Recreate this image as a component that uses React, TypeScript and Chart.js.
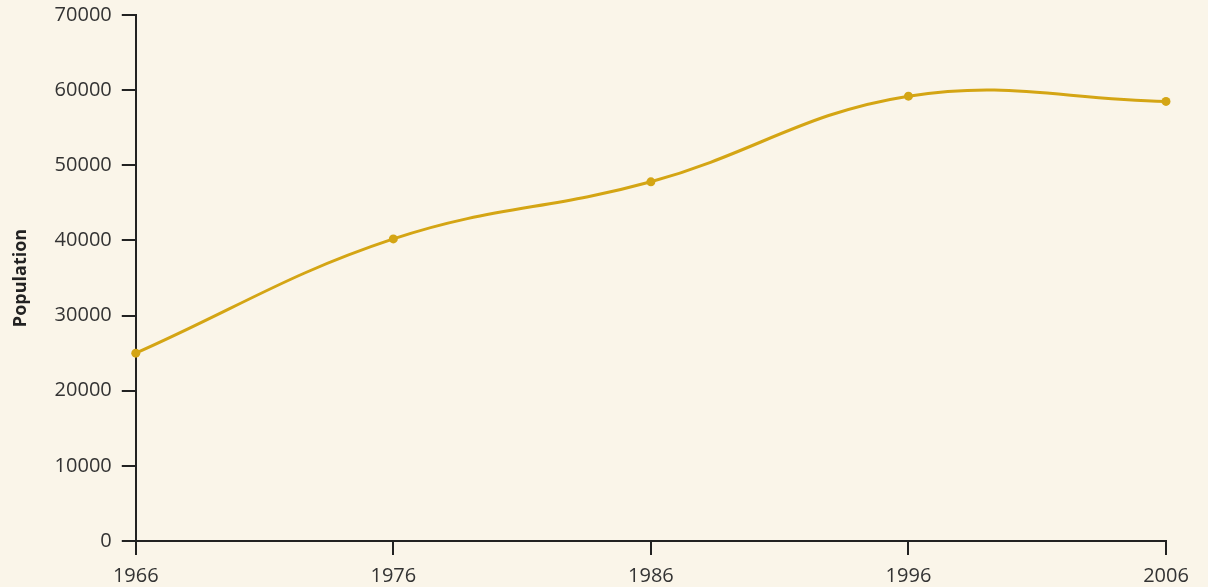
import React, { useEffect, useRef } from "react";
import { Chart, registerables } from "chart.js";

Chart.register(...registerables);

const years = ["1966", "1976", "1986", "1996", "2006"];
const population = [25000, 40200, 47800, 59200, 58500];
const yAxisTitle = "Population";

const LINE_COLOR = "#d4a514";
const AXIS_COLOR = "#222222";
const TEXT_COLOR = "#333333";
const BG = "#faf5e9";

export default function App() {
  const ref = useRef<HTMLCanvasElement | null>(null);

  useEffect(() => {
    document.body.style.margin = "0";
    document.body.style.background = BG;
    const chart = new Chart(ref.current as HTMLCanvasElement, {
      type: "line",
      data: {
        labels: years,
        datasets: [
          {
            data: population,
            borderColor: LINE_COLOR,
            backgroundColor: LINE_COLOR,
            borderWidth: 3,
            pointRadius: 4.5,
            pointBackgroundColor: LINE_COLOR,
            pointBorderWidth: 0,
            tension: 0.4,
            fill: false,
            clip: false as any,
          },
        ],
      },
      options: {
        animation: false,
        responsive: false,
        maintainAspectRatio: false,
        layout: { padding: { top: 3, right: 42, left: 10, bottom: -11 } },
        plugins: { legend: { display: false }, tooltip: { enabled: false } },
        scales: {
          x: {
            type: "category",
            offset: false,
            border: { color: AXIS_COLOR, width: 2 },
            grid: {
              display: true,
              drawOnChartArea: false,
              drawTicks: true,
              tickLength: 14,
              color: AXIS_COLOR,
              lineWidth: 2,
            },
            ticks: {
              color: TEXT_COLOR,
              font: { family: "'Open Sans'", size: 20, lineHeight: 0.55 },
              padding: 16,
              maxRotation: 0,
            },
          },
          y: {
            min: 0,
            max: 70000,
            border: { color: AXIS_COLOR, width: 2 },
            grid: {
              display: true,
              drawOnChartArea: false,
              drawTicks: true,
              tickLength: 14,
              color: AXIS_COLOR,
              lineWidth: 2,
            },
            ticks: {
              stepSize: 10000,
              color: TEXT_COLOR,
              font: { family: "'Open Sans'", size: 20, lineHeight: 0.5 },
              padding: 10,
              callback: (v: any) => String(v),
            },
            title: {
              display: true,
              text: yAxisTitle,
              color: "#222222",
              font: { family: "'Open Sans'", size: 18, weight: "bold" },
              padding: { top: 0, bottom: 13 },
            },
          },
        },
      },
    });
    return () => chart.destroy();
  }, []);

  return (
    <div style={{ width: 1208, height: 587, background: BG }}>
      <canvas ref={ref} width={1208} height={587} style={{ display: "block" }} />
    </div>
  );
}
